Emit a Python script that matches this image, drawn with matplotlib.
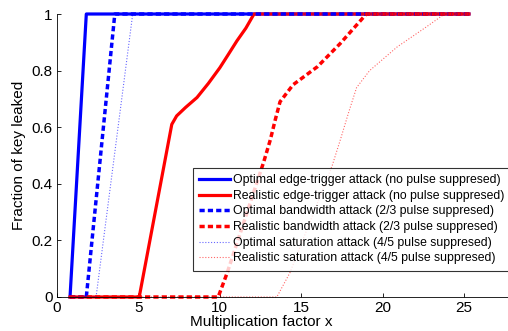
import numpy as np
import matplotlib
matplotlib.use("Agg")
import matplotlib.pyplot as plt

plt.rcParams['font.family'] = ['Liberation Sans', 'DejaVu Sans']

# curves (x = multiplication factor, y = fraction leaked)
opt_edge_x = [0.8, 1.8, 25.3]
opt_edge_y = [0, 1, 1]

real_edge_x = [0.8, 5.05, 7.05, 7.35, 7.9, 8.6, 9.3, 10.0, 10.5, 11.05, 11.6, 12.1, 25.3]
real_edge_y = [0, 0, 0.61, 0.64, 0.67, 0.705, 0.755, 0.81, 0.855, 0.905, 0.95, 1.0, 1.0]

opt_bw_x = [0.8, 1.8, 3.55, 25.3]
opt_bw_y = [0, 0, 1, 1]

real_bw_x = [0.8, 9.9, 10.45, 12.7, 13.1, 13.4, 13.7, 14.5, 16.0, 17.4, 19.0, 25.3]
real_bw_y = [0, 0, 0.085, 0.478, 0.555, 0.625, 0.69, 0.75, 0.814, 0.896, 1.0, 1.0]

opt_sat_x = [0.8, 2.4, 4.65, 25.3]
opt_sat_y = [0, 0, 1, 1]

real_sat_x = [0.8, 13.5, 14.3, 16.9, 17.4, 17.9, 18.4, 19.2, 20.9, 22.7, 23.8, 25.3]
real_sat_y = [0, 0, 0.085, 0.464, 0.555, 0.65, 0.74, 0.80, 0.884, 0.955, 1.0, 1.0]

labels = [
    "Optimal edge-trigger attack (no pulse suppresed)",
    "Realistic edge-trigger attack (no pulse suppresed)",
    "Optimal bandwidth attack (2/3 pulse suppresed)",
    "Realistic bandwidth attack (2/3 pulse suppresed)",
    "Optimal saturation attack (4/5 pulse suppresed)",
    "Realistic saturation attack (4/5 pulse suppresed)",
]

fig = plt.figure(figsize=(5.08, 3.31), dpi=100)
ax = fig.add_axes([57 / 508, 34 / 331, 1 - 57 / 508, 283 / 331])

ax.plot(opt_edge_x, opt_edge_y, color='#0000ff', lw=2.3, label=labels[0], clip_on=False)
ax.plot(real_edge_x, real_edge_y, color='#ff0000', lw=2.3, label=labels[1], clip_on=False)
ax.plot(opt_bw_x, opt_bw_y, color='#0000ff', lw=2.5, dashes=(1.5, 0.9), label=labels[2], clip_on=False)
ax.plot(real_bw_x, real_bw_y, color='#ff0000', lw=2.5, dashes=(1.5, 0.9), label=labels[3], clip_on=False)
ax.plot(opt_sat_x, opt_sat_y, color='#0000ff', lw=0.8, dashes=(1, 1.6), alpha=0.6, label=labels[4], clip_on=False)
ax.plot(real_sat_x, real_sat_y, color='#ff0000', lw=0.8, dashes=(1, 1.6), alpha=0.6, label=labels[5], clip_on=False)

ax.set_xlim(0, 27.7)
ax.set_ylim(0, 1)
ax.set_xticks([0, 5, 10, 15, 20, 25])
ax.set_yticks([0, 0.2, 0.4, 0.6, 0.8, 1])
ax.set_yticklabels(["0", "0.2", "0.4", "0.6", "0.8", "1"])
ax.spines['top'].set_visible(False)
ax.spines['right'].set_visible(False)
for s in ['left', 'bottom']:
    ax.spines[s].set_linewidth(0.6)
ax.tick_params(direction='in', length=3, width=0.6, labelsize=11, pad=3)

ax.set_xlabel("Multiplication factor x", fontsize=11)
ax.xaxis.set_label_coords(0.453, -0.062)
ax.set_ylabel("Fraction of key leaked", fontsize=11, labelpad=4)

leg = ax.legend(loc='upper left', bbox_to_anchor=(193 / 508, 1 - 168 / 331),
                bbox_transform=fig.transFigure, fontsize=8.8, frameon=True,
                fancybox=False, handlelength=2.5, handletextpad=0.25,
                labelspacing=0.3, borderpad=0.5, borderaxespad=0)
leg.get_frame().set_edgecolor('black')
leg.get_frame().set_linewidth(0.8)

fig.savefig("out.png", dpi=100)
